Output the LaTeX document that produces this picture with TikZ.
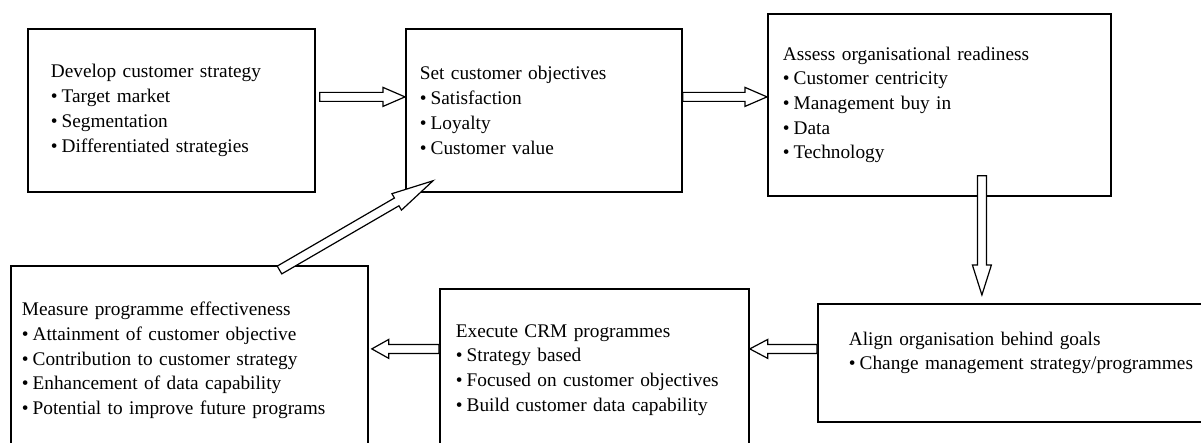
\documentclass[tikz,border=0pt]{standalone}
\usepackage{fontspec}
\setmainfont{Liberation Serif}
\usepackage{tikz}
\usetikzlibrary{calc}
\newcommand{\fatarrow}[3][22pt]{%
  \coordinate (hb) at ($(#3)!#1!(#2)$);
  \draw[fat] ($(#2)!4.5pt!90:(#3)$) -- ($(hb)!4.5pt!90:(#3)$)
    -- ($(hb)!9.5pt!90:(#3)$) -- (#3) -- ($(hb)!9.5pt!-90:(#3)$)
    -- ($(hb)!4.5pt!-90:(#3)$) -- ($(#2)!4.5pt!-90:(#3)$) -- cycle;}
\newcommand{\itm}{\textbullet\kern4pt}

\begin{document}
\begin{tikzpicture}[x=1pt,y=-1pt,
  stepbox/.style={draw,line width=1.8pt,anchor=north west,align=left,
    inner ysep=0pt,font=\fontsize{19.3}{24.7}\selectfont},
  fat/.style={draw=black,fill=white,line width=1.2pt,line join=miter}]
  \useasboundingbox (0,0) rectangle (1201,443);
  \coordinate (P1) at (27,28);
  \coordinate (P2) at (405,28);
  \coordinate (P3) at (767,13);
  \coordinate (P4) at (10,265);
  \coordinate (P5) at (439,288);
  \coordinate (P6) at (817,303);

  \node[
    stepbox,
    inner xsep=23pt,
    text width=241pt,
    minimum height=163pt] at (P1) (p1) {Develop customer strategy\\
    \itm Target market\\ \itm Segmentation\\
    \itm Differentiated strategies};
  \node[
    stepbox,
    inner xsep=14pt,
    text width=248pt,
    minimum height=163pt] at (P2) (p2) {Set customer objectives\\
    \itm Satisfaction\\ \itm Loyalty\\
    \itm Customer value};
  \node[
    stepbox,
    inner xsep=15pt,
    text width=313pt,
    minimum height=182pt] at (P3) (p3) {Assess organisational readiness\\
    \itm Customer centricity\\ \itm Management buy in\\
    \itm Data\\ \itm Technology};
  \node[
    stepbox,
    inner xsep=11pt,
    text width=335pt,
    minimum height=189pt] at (P4) (p4) {Measure programme effectiveness\\
    \itm Attainment of customer objective\\
    \itm Contribution to customer strategy\\
    \itm Enhancement of data capability\\
    \itm Potential to improve future programs};
  \node[
    stepbox,
    inner xsep=16pt,
    text width=277pt,
    minimum height=162pt] at (P5) (p5) {Execute CRM programmes\\
    \itm Strategy based\\
    \itm Focused on customer objectives\\
    \itm Build customer data capability};
  \node[
    stepbox,
    inner xsep=31pt,
    text width=351pt,
    text depth=49pt,
    minimum height=118pt] at (P6) (p6) {Align organisation behind goals\\
    \itm Change management strategy/programmes};

  % arrows between the steps
  \coordinate (s12) at ([xshift=4pt,yshift=13.5pt]p1.east);
  \coordinate (t12) at ([yshift=13.5pt]p2.west);
  \coordinate (s23) at ([yshift=13.5pt]p2.east);
  \coordinate (t23) at ([yshift=8pt]p3.west);
  \coordinate (s36) at ([xshift=42.5pt,yshift=21pt]p3.south);
  \coordinate (t36) at ([xshift=-42.5pt,yshift=8pt]p6.north);
  \coordinate (s65) at ([yshift=14pt]p6.west);
  \coordinate (t65) at ([yshift=21pt]p5.east);
  \coordinate (s54) at ([yshift=21pt]p5.west);
  \coordinate (t54) at ([xshift=3pt,yshift=11.5pt]p4.east);
  \coordinate (s42) at ([xshift=269.5pt,yshift=-5pt]p4.north west);
  \coordinate (t42) at ([xshift=28pt,yshift=12pt]p2.south west);
  \fatarrow{s12}{t12}
  \fatarrow{s23}{t23}
  \fatarrow[30pt]{s36}{t36}
  \fatarrow[18pt]{s65}{t65}
  \fatarrow[17pt]{s54}{t54}
  \fatarrow[42pt]{s42}{t42}

\end{tikzpicture}
\end{document}
